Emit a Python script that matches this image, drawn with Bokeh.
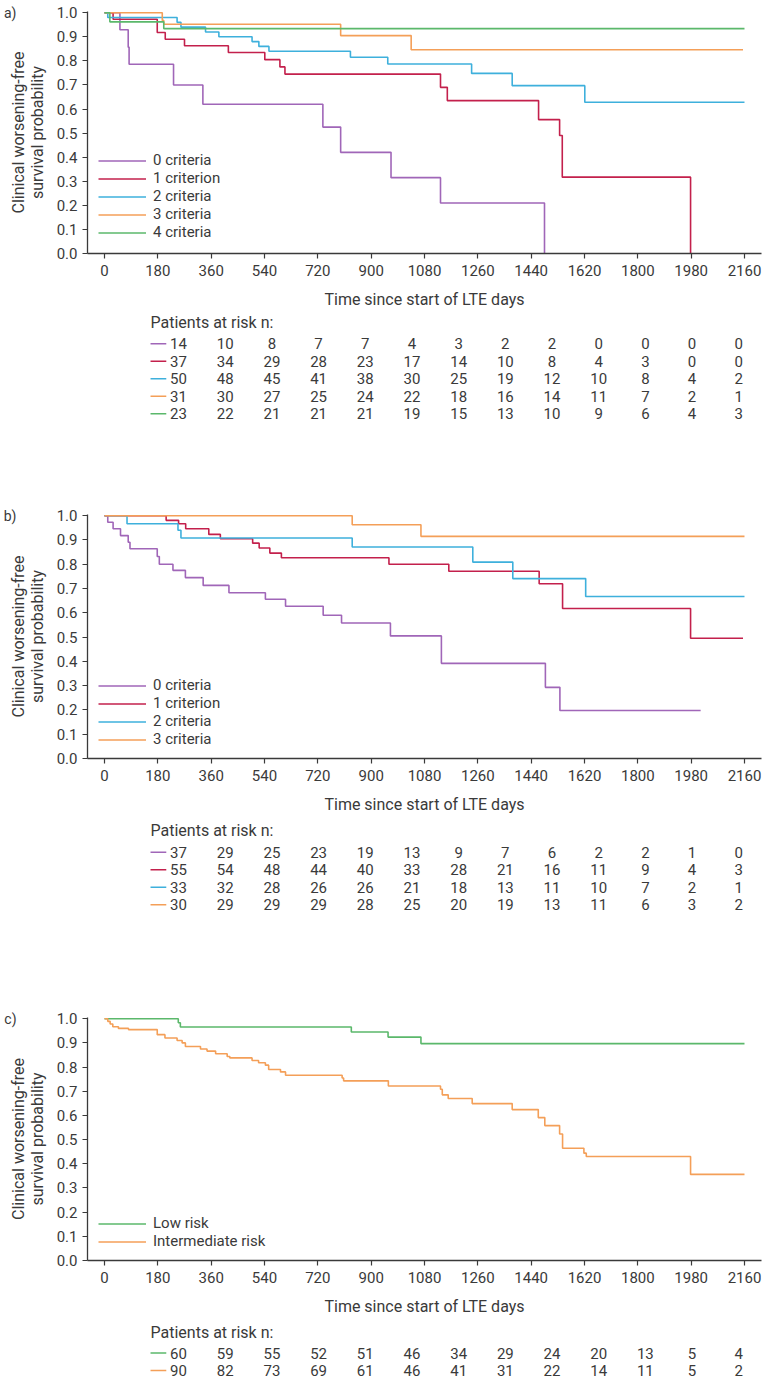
from bokeh.plotting import figure
from bokeh.models import (Range1d, FixedTicker, PrintfTickFormatter, Legend, LegendItem,
                          LinearAxis, CustomJSTickFormatter)
from bokeh.layouts import column
from bokeh.embed import file_html
from bokeh.resources import INLINE
from bokeh.core.properties import value

# ---------------- data ----------------
x_ticks = [0, 180, 360, 540, 720, 900, 1080, 1260, 1440, 1620, 1800, 1980, 2160]
y_ticks = [0.0, 0.1, 0.2, 0.3, 0.4, 0.5, 0.6, 0.7, 0.8, 0.9, 1.0]
risk_times = [0, 180, 360, 540, 720, 900, 1080, 1260, 1440, 1620, 1800, 1980, 2160]

x_label = "Time since start of LTE days"
y_label = "Clinical worsening-free\nsurvival probability"
risk_title = "Patients at risk n:"
panel_tags = ["a)", "b)", "c)"]

# Panel a
a_labels = ["0 criteria", "1 criterion", "2 criteria", "3 criteria", "4 criteria"]
a0_t = [0, 52, 80, 83, 233, 332, 737, 797, 967, 1134, 1485]
a0_s = [1.0, 0.929, 0.857, 0.786, 0.70, 0.62, 0.525, 0.42, 0.315, 0.21, 0.0]
a1_t = [0, 29, 178, 205, 270, 418, 541, 592, 609, 1134, 1157, 1465, 1536, 1545, 1978]
a1_s = [1.0, 0.973, 0.918, 0.89, 0.863, 0.835, 0.805, 0.775, 0.745, 0.69, 0.635, 0.556, 0.49, 0.317, 0.0]
a2_t = [0, 11, 245, 258, 341, 386, 498, 521, 555, 830, 956, 1239, 1376, 1621, 2160]
a2_s = [1.0, 0.98, 0.96, 0.94, 0.92, 0.90, 0.88, 0.86, 0.84, 0.815, 0.787, 0.748, 0.697, 0.628, 0.628]
a3_t = [0, 195, 200, 797, 1035, 2155]
a3_s = [1.0, 0.968, 0.952, 0.905, 0.846, 0.846]
a4_t = [0, 18, 200, 2160]
a4_s = [1.0, 0.962, 0.934, 0.934]
a_risk = [
    [14, 10, 8, 7, 7, 4, 3, 2, 2, 0, 0, 0, 0],
    [37, 34, 29, 28, 23, 17, 14, 10, 8, 4, 3, 0, 0],
    [50, 48, 45, 41, 38, 30, 25, 19, 12, 10, 8, 4, 2],
    [31, 30, 27, 25, 24, 22, 18, 16, 14, 11, 7, 2, 1],
    [23, 22, 21, 21, 21, 19, 15, 13, 10, 9, 6, 4, 3],
]

# Panel b
b_labels = ["0 criteria", "1 criterion", "2 criteria", "3 criteria"]
b0_t = [0, 11, 29, 54, 80, 86, 178, 185, 231, 273, 333, 420, 543, 611, 738, 800, 965, 1137, 1488, 1537, 2012]
b0_s = [1.0, 0.973, 0.946, 0.918, 0.891, 0.864, 0.832, 0.80, 0.775, 0.745, 0.713, 0.683, 0.656, 0.627, 0.59, 0.558, 0.505, 0.392, 0.293, 0.198, 0.198]
b1_t = [0, 208, 250, 274, 352, 391, 500, 522, 558, 597, 960, 1162, 1467, 1546, 1978, 2155]
b1_s = [1.0, 0.981, 0.967, 0.946, 0.923, 0.905, 0.887, 0.867, 0.846, 0.827, 0.80, 0.771, 0.72, 0.618, 0.495, 0.495]
b2_t = [0, 76, 248, 258, 836, 1243, 1378, 1624, 2160]
b2_s = [1.0, 0.967, 0.94, 0.908, 0.871, 0.809, 0.741, 0.667, 0.667]
b3_t = [0, 836, 1068, 2160]
b3_s = [1.0, 0.963, 0.915, 0.915]
b_risk = [
    [37, 29, 25, 23, 19, 13, 9, 7, 6, 2, 2, 1, 0],
    [55, 54, 48, 44, 40, 33, 28, 21, 16, 11, 9, 4, 3],
    [33, 32, 28, 26, 26, 21, 18, 13, 11, 10, 7, 2, 1],
    [30, 29, 29, 29, 28, 25, 20, 19, 13, 11, 6, 3, 2],
]

# Panel c
c_labels = ["Low risk", "Intermediate risk"]
c0_t = [0, 249, 256, 833, 957, 1068, 2160]
c0_s = [1.0, 0.983, 0.966, 0.945, 0.924, 0.897, 0.897]
c1_t = [0, 11, 19, 28, 47, 81, 178, 204, 245, 262, 273, 324, 346, 375, 414, 423, 498, 520, 543, 554,
        594, 611, 802, 807, 958, 1134, 1140, 1160, 1241, 1376, 1464, 1486, 1536, 1546, 1618, 1626, 1978, 2160]
c1_s = [1.0, 0.989, 0.978, 0.967, 0.96, 0.955, 0.934, 0.92, 0.91, 0.90, 0.885, 0.875, 0.866, 0.855, 0.844, 0.838,
        0.827, 0.818, 0.808, 0.79, 0.78, 0.766, 0.755, 0.743, 0.722, 0.708, 0.685, 0.67, 0.649, 0.624, 0.591,
        0.558, 0.523, 0.464, 0.444, 0.43, 0.356, 0.356]
c_risk = [
    [60, 59, 55, 52, 51, 46, 34, 29, 24, 20, 13, 5, 4],
    [90, 82, 73, 69, 61, 46, 41, 31, 22, 14, 11, 5, 2],
]

# ---------------- style / layout ----------------
PURPLE = "#a066b8"
RED = "#c3204c"
BLUE = "#3eb0dc"
ORANGE = "#f49f58"
GREEN = "#5bb86b"
TEXT = "#3a3a3a"
FONT = "Roboto"

W = 770
FRAME_L = 87
FRAME_R = 9
BOTTOM = 58
X_START, X_END = -57.4, 2217.4
PXD = (W - FRAME_L - FRAME_R) / (X_END - X_START)
TX_START = X_START - FRAME_L / PXD
TX_END = X_END + FRAME_R / PXD


def make_plot(tag, series, labels, colors, top, frame_h, legend_y):
    p = figure(width=W, height=top + frame_h + BOTTOM,
               x_range=Range1d(X_START, X_END), y_range=Range1d(0, 1.005),
               output_backend="svg", toolbar_location=None,
               min_border_left=FRAME_L, min_border_right=FRAME_R,
               min_border_top=top, min_border_bottom=BOTTOM)
    p.outline_line_color = None
    p.grid.visible = False
    renderers = []
    for (t, s), c in zip(series, colors):
        r = p.step(t, s, mode="after", line_color=c, line_width=1.6)
        renderers.append(r)
    for ax in (p.xaxis[0], p.yaxis[0]):
        ax.axis_line_color = TEXT
        ax.axis_line_width = 1.3
        ax.major_tick_line_color = TEXT
        ax.major_tick_line_width = 1.2
        ax.major_tick_in = 0
        ax.major_tick_out = 5
        ax.minor_tick_line_color = None
        ax.major_label_text_font = FONT
        ax.major_label_text_font_size = "15px"
        ax.major_label_text_color = TEXT
        ax.axis_label_text_font = FONT
        ax.axis_label_text_font_size = "16px"
        ax.axis_label_text_font_style = "normal"
        ax.axis_label_text_color = TEXT
    p.xaxis.ticker = FixedTicker(ticks=x_ticks)
    p.yaxis.ticker = FixedTicker(ticks=y_ticks)
    p.yaxis.formatter = PrintfTickFormatter(format="%.1f")
    p.xaxis.major_label_standoff = 6
    p.yaxis.major_label_standoff = 5
    p.xaxis.axis_label = x_label
    p.xaxis.axis_label_standoff = 11
    p.yaxis.axis_label = y_label
    p.yaxis.axis_label_standoff = 7
    p.yaxis.axis_label_text_line_height = 1.0

    # panel tag ("a)" etc.) carried by an outer, line-less axis at the top tick
    tag_axis = LinearAxis(ticker=FixedTicker(ticks=[y_ticks[-1]]),
                          formatter=CustomJSTickFormatter(code="return %r;" % tag),
                          axis_line_color=None, major_tick_line_color=None,
                          minor_tick_line_color=None, major_tick_in=0, major_tick_out=0,
                          major_label_standoff=-11, major_label_text_font=FONT,
                          major_label_text_font_size="14px", major_label_text_color=TEXT)
    p.add_layout(tag_axis, "left")

    items = [LegendItem(label=l, renderers=[r]) for l, r in zip(labels, renderers)]
    leg = Legend(items=items, location=(11, legend_y), border_line_color=None,
                 background_fill_alpha=0, padding=0, margin=0, spacing=0,
                 glyph_width=48, glyph_height=17, label_height=17, label_standoff=7,
                 label_text_font=FONT, label_text_font_size="15px", label_text_color=TEXT)
    p.add_layout(leg)
    return p


def make_table(rows, colors, height, head_y, row0_y, row_gap=17.5):
    t = figure(width=W, height=height, x_range=Range1d(TX_START, TX_END),
               y_range=Range1d(height, 0), output_backend="svg", toolbar_location=None,
               min_border=0, min_border_left=0, min_border_right=0, min_border_top=0,
               min_border_bottom=0, x_axis_location=None, y_axis_location=None)
    t.outline_line_color = None
    t.grid.visible = False
    left = TX_START + 72 / PXD
    t.text(x=[left], y=[head_y], text=[risk_title], text_align="left", text_baseline="middle",
           text_font=value(FONT), text_font_size="16px", text_color=TEXT)
    for i, (row, c) in enumerate(zip(rows, colors)):
        yy = row0_y + i * row_gap
        t.segment(x0=[left], x1=[TX_START + 90 / PXD], y0=[yy], y1=[yy], line_color=c, line_width=1.6)
        t.text(x=risk_times, y=[yy] * len(row), text=[str(v) for v in row], text_align="center",
               text_baseline="middle", text_font=value(FONT), text_font_size="15px", text_color=TEXT)
    return t


# page layout (px from top)
pa = make_plot(panel_tags[0], [(a0_t, a0_s), (a1_t, a1_s), (a2_t, a2_s), (a3_t, a3_s), (a4_t, a4_s)],
               a_labels, [PURPLE, RED, BLUE, ORANGE, GREEN], 11, 242, 12)          # 0 -> 311
ta = make_table(a_risk, [PURPLE, RED, BLUE, ORANGE, GREEN], 192, 10.7, 32.3)     # 311 -> 503
pb = make_plot(panel_tags[1], [(b0_t, b0_s), (b1_t, b1_s), (b2_t, b2_s), (b3_t, b3_s)],
               b_labels, [PURPLE, RED, BLUE, ORANGE], 11, 244, 10)                 # 503 -> 816
tb = make_table(b_risk, [PURPLE, RED, BLUE, ORANGE], 190, 14, 35.7)               # 816 -> 1006
pc = make_plot(panel_tags[2], [(c0_t, c0_s), (c1_t, c1_s)], c_labels, [GREEN, ORANGE], 11, 243, 10)  # 1006 -> 1318
tc = make_table(c_risk, [GREEN, ORANGE], 62, 14, 34.5)                             # 1318 -> 1380

layout = column(pa, ta, pb, tb, pc, tc, spacing=0)
open("out.html", "w").write(file_html(layout, INLINE))
